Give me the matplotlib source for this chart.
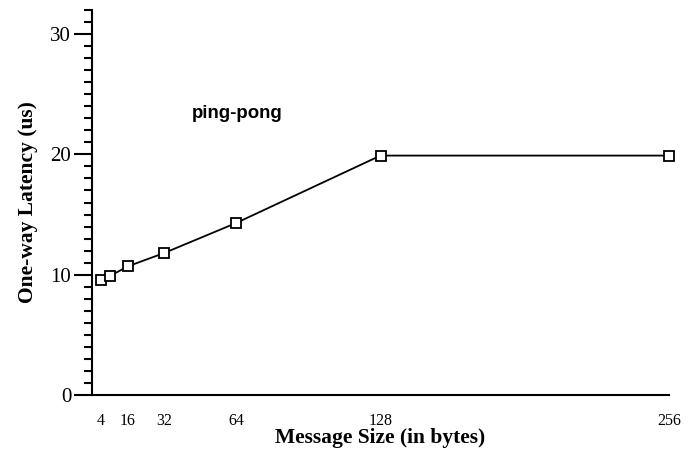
import matplotlib
matplotlib.use("Agg")
import matplotlib.pyplot as plt
from matplotlib.ticker import MultipleLocator

msg_size = [4, 8, 16, 32, 64, 128, 256]
latency = [9.6, 9.9, 10.7, 11.8, 14.3, 19.9, 19.9]
xtick_vals = [4, 16, 32, 64, 128, 256]
series_name = "ping-pong"


def main():
    plt.rcParams["font.family"] = ["Liberation Serif", "DejaVu Serif"]

    fig = plt.figure(figsize=(6.9, 4.63), dpi=100)
    ax = fig.add_axes([92 / 690, 68 / 463, 577 / 690, 385 / 463])

    ax.plot(msg_size, latency, "-s", color="black", linewidth=1.3,
            markersize=7.8, markerfacecolor="white", markeredgecolor="black",
            markeredgewidth=1.3, clip_on=False)

    ax.set_xlim(0, 256)
    ax.set_ylim(0, 32)

    ax.spines["top"].set_visible(False)
    ax.spines["right"].set_visible(False)
    ax.spines["left"].set_linewidth(1.5)
    ax.spines["bottom"].set_linewidth(1.5)

    ax.set_xticks(xtick_vals)
    ax.set_xticklabels([str(v) for v in xtick_vals], fontsize=11.5)
    ax.tick_params(axis="x", length=0, pad=13)

    ax.yaxis.set_major_locator(MultipleLocator(10))
    ax.yaxis.set_minor_locator(MultipleLocator(1))
    ax.tick_params(axis="y", which="major", length=13, width=1.5,
                   labelsize=15, pad=2)
    ax.tick_params(axis="y", which="minor", length=6, width=1.5)

    ax.set_xlabel("Message Size (in bytes)", fontsize=15.5, fontweight="bold",
                  labelpad=-1)
    ax.set_ylabel("One-way Latency (us)", fontsize=15.5, fontweight="bold",
                  labelpad=9)

    ax.text(44.5, 23.4, series_name, fontsize=13.4, fontweight="bold",
            family=["Liberation Sans", "DejaVu Sans"], va="center", ha="left")

    fig.savefig("out.png", dpi=100)


if __name__ == "__main__":
    main()
